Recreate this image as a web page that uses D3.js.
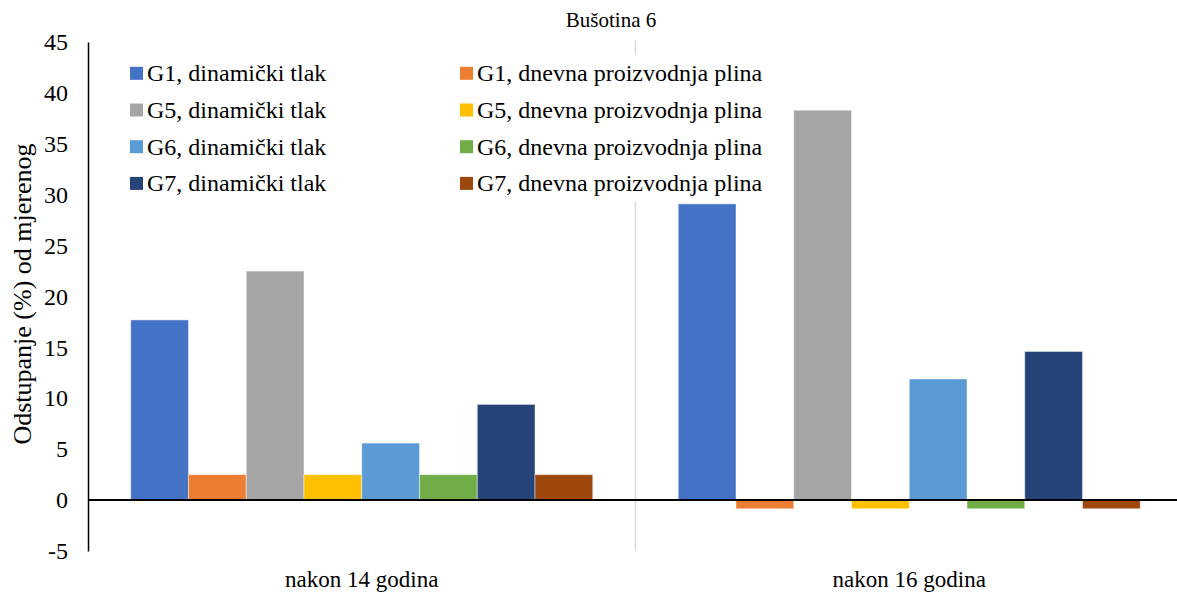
<!DOCTYPE html>
<html>
<head>
<meta charset="utf-8">
<script src="https://cdn.jsdelivr.net/npm/d3@7"></script>
<style>
  html, body { margin: 0; padding: 0; background: #fff; }
  svg text { font-family: "Liberation Serif", "Times New Roman", "DejaVu Serif", serif !important; fill: #000; }
</style>
</head>
<body>
<svg id="chart" width="1177" height="594"></svg>
<script>
// Categories (x axis) and series
const categories = ["nakon 14 godina", "nakon 16 godina"];
const seriesNames = [
  "G1, dinamički tlak", "G1, dnevna proizvodnja plina",
  "G5, dinamički tlak", "G5, dnevna proizvodnja plina",
  "G6, dinamički tlak", "G6, dnevna proizvodnja plina",
  "G7, dinamički tlak", "G7, dnevna proizvodnja plina"
];
const seriesColors = ["#4472C4", "#ED7D31", "#A5A5A5", "#FFC000", "#5B9BD5", "#70AD47", "#264478", "#9E480E"];

// Deviation (%) from measured value, per category, in series order
const after14 = [17.7, 2.5, 22.5, 2.5, 5.6, 2.5, 9.4, 2.5];
const after16 = [29.1, -0.85, 38.3, -0.85, 11.9, -0.85, 14.6, -0.85];
const valuesByCategory = [after14, after16];

const yTicks = [-5, 0, 5, 10, 15, 20, 25, 30, 35, 40, 45];
const chartTitle = "Bušotina 6";
const yTitle = "Odstupanje (%) od mjerenog";

const svg = d3.select("#chart");
const plot = { left: 88, right: 1183, top: 42, bottom: 551 };

const x0 = d3.scaleBand().domain(categories).range([plot.left, plot.right]).padding(0);
const x1 = d3.scaleBand().domain(seriesNames).range([0, x0.bandwidth()])
  .paddingInner(0).paddingOuter(0.74);
const y = d3.scaleLinear().domain([-5, 45]).range([plot.bottom, plot.top]);
const color = d3.scaleOrdinal().domain(seriesNames).range(seriesColors);

// Category separator
svg.append("line")
  .attr("x1", x0(categories[1])).attr("x2", x0(categories[1]))
  .attr("y1", plot.top - 2).attr("y2", plot.bottom)
  .attr("stroke", "#d9d9d9").attr("stroke-width", 1.5);

// Bars
const groups = svg.append("g").selectAll("g")
  .data(categories.map((c, i) => ({ cat: c, vals: valuesByCategory[i] })))
  .join("g")
  .attr("transform", d => `translate(${x0(d.cat)},0)`);

groups.selectAll("rect")
  .data(d => d.vals.map((v, j) => ({ name: seriesNames[j], value: v })))
  .join("rect")
  .attr("x", d => x1(d.name))
  .attr("width", x1.bandwidth())
  .attr("y", d => y(Math.max(0, d.value)))
  .attr("height", d => Math.abs(y(d.value) - y(0)))
  .attr("fill", d => color(d.name))
  .attr("stroke", "#ffffff")
  .attr("stroke-opacity", 0.45)
  .attr("stroke-width", 1);

// Y axis (line + labels, no tick marks)
const yAxis = d3.axisLeft(y).tickValues(yTicks).tickSize(0).tickPadding(20)
  .tickFormat(d => String(d));
const gy = svg.append("g").attr("transform", `translate(${plot.left},0)`).call(yAxis);
gy.attr("font-family", null).attr("font-size", null);
gy.select(".domain").attr("stroke", "#000").attr("stroke-width", 1.5);
gy.selectAll("text").attr("font-size", 24);

// Zero line
svg.append("line")
  .attr("x1", plot.left).attr("x2", 1177)
  .attr("y1", y(0)).attr("y2", y(0))
  .attr("stroke", "#000").attr("stroke-width", 2);

// Category labels
const xAxis = d3.axisBottom(x0).tickSize(0).tickPadding(0);
const gx = svg.append("g").attr("transform", `translate(0,${plot.bottom})`).call(xAxis);
gx.attr("font-family", null).attr("font-size", null);
gx.select(".domain").remove();
gx.selectAll("text")
  .attr("font-size", 23)
  .attr("dy", null).attr("y", 36);

// Title
svg.append("text")
  .attr("x", 611).attr("y", 27)
  .attr("text-anchor", "middle")
  .attr("font-size", 21)
  .text(chartTitle);

// Y axis title
svg.append("text")
  .attr("transform", "translate(31,294) rotate(-90)")
  .attr("text-anchor", "middle")
  .attr("font-size", 26)
  .text(yTitle);

// Legend
const legend = svg.append("g");
legend.append("rect")
  .attr("x", 120).attr("y", 55).attr("width", 660).attr("height", 147)
  .attr("fill", "#fff");
const legendCols = [130, 460];
const legendRow0 = 73.3, legendRowStep = 36.7;
const items = legend.selectAll("g.item")
  .data(seriesNames)
  .join("g")
  .attr("class", "item")
  .attr("transform", (d, i) => `translate(${legendCols[i % 2]},${legendRow0 + Math.floor(i / 2) * legendRowStep})`);
items.append("rect")
  .attr("x", 0).attr("y", -6.5).attr("width", 13).attr("height", 13)
  .attr("fill", d => color(d));
items.append("text")
  .attr("x", 17).attr("y", 8)
  .attr("font-size", 24)
  .text(d => d);
</script>
</body>
</html>
